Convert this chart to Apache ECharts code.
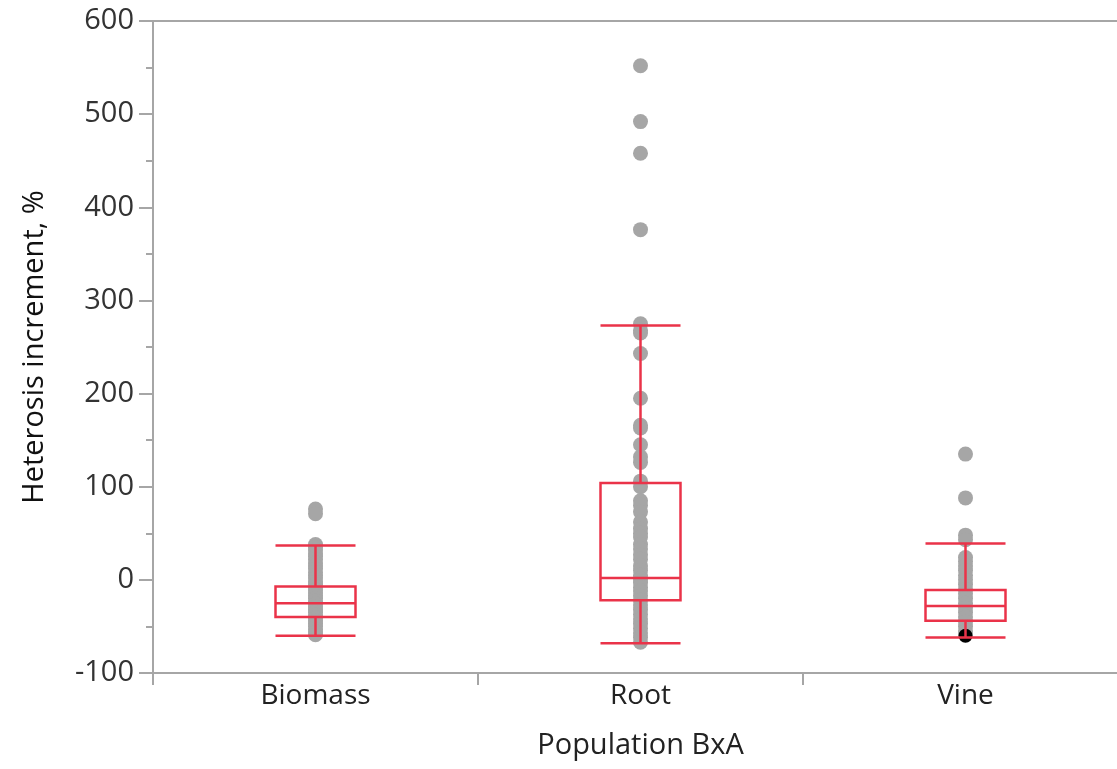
<!DOCTYPE html>
<html>
<head>
<meta charset="utf-8">
<script src="https://cdn.jsdelivr.net/npm/echarts@6/dist/echarts.min.js"></script>
<style>
html,body{margin:0;padding:0;background:#fff;overflow:hidden;width:1117px;height:769px;}
#chart{width:1128px;height:769px;}
</style>
</head>
<body>
<div id="chart"></div>
<script>
// Categories
const categories = ['Biomass', 'Root', 'Vine'];
// Y axis ticks
const yTicks = [-100, 0, 100, 200, 300, 400, 500, 600];
// Box statistics: [min, Q1, median, Q3, max]
const boxBiomass = [-60, -40, -25, -7, 37];
const boxRoot = [-68, -22, 2, 104, 273];
const boxVine = [-62, -44, -28, -11, 39];
// Individual observations
const pointsBiomass = [76, 71, 38, 35, 32, 28, 25, 22, 18, 15, 12, 8, 5, 2, -2, -5, -8, -11, -14, -17, -20, -23, -26, -29, -32, -35, -38, -41, -44, -47, -50, -53, -56, -59];
const pointsRoot = [552, 492, 458, 376, 275, 268, 265, 243, 195, 166, 163, 145, 132, 126, 106, 100, 85, 80, 73, 62, 55, 50, 46, 38, 33, 27, 22, 15, 10, 5, 1, -3, -8, -12, -17, -22, -27, -32, -37, -42, -47, -52, -57, -62, -67];
const pointsVine = [135, 88, 48, 43, 24, 20, 15, 10, 5, 0, -5, -10, -15, -20, -25, -30, -35, -40, -45, -50, -55, -58];
const pointsVineHighlight = [-60];

const grayPts = [];
pointsBiomass.forEach(v => grayPts.push([categories[0], v]));
pointsRoot.forEach(v => grayPts.push([categories[1], v]));
pointsVine.forEach(v => grayPts.push([categories[2], v]));
const blackPts = pointsVineHighlight.map(v => [categories[2], v]);

const chart = echarts.init(document.getElementById('chart'), null, {renderer: 'canvas'});
const axisGray = '#a6a6a6';
const red = '#ea3349';
chart.setOption({
  animation: false,
  backgroundColor: '#ffffff',
  grid: {left: 153, top: 21, right: 0, bottom: 96, show: false, containLabel: false},
  xAxis: [{
    type: 'category',
    data: categories,
    boundaryGap: true,
    position: 'bottom',
    axisLine: {onZero: false, lineStyle: {color: axisGray, width: 2}},
    axisTick: {show: true, alignWithLabel: false, interval: 0, length: 12, lineStyle: {color: axisGray, width: 2}},
    axisLabel: {fontFamily: 'Open Sans', fontSize: 28, color: '#222', margin: 9},
    name: 'Population BxA',
    nameLocation: 'middle',
    nameGap: 58,
    nameTextStyle: {fontFamily: 'Open Sans', fontSize: 29, color: '#222'},
    splitLine: {show: false}
  }, {
    type: 'category',
    data: categories,
    position: 'top',
    axisLine: {onZero: false, lineStyle: {color: axisGray, width: 2}},
    axisTick: {show: false},
    axisLabel: {show: false},
    splitLine: {show: false}
  }],
  yAxis: {
    type: 'value',
    min: yTicks[0],
    max: yTicks[yTicks.length - 1],
    interval: 100,
    axisLine: {show: true, onZero: false, lineStyle: {color: axisGray, width: 2}},
    axisTick: {show: true, length: 14, lineStyle: {color: axisGray, width: 2}},
    minorTick: {show: true, splitNumber: 2, length: 7, lineStyle: {color: axisGray, width: 2}},
    axisLabel: {fontFamily: 'Open Sans', fontSize: 29, color: '#333', margin: 19},
    splitLine: {show: false},
    name: 'Heterosis increment, %',
    nameLocation: 'middle',
    nameGap: 104,
    nameTextStyle: {fontFamily: 'Open Sans', fontSize: 29, color: '#111'}
  },
  series: [
    {
      type: 'scatter',
      data: grayPts,
      symbolSize: 15,
      itemStyle: {color: '#a6a6a6', opacity: 1},
      z: 2
    },
    {
      type: 'scatter',
      data: blackPts,
      symbolSize: 14,
      itemStyle: {color: '#000000', opacity: 1},
      z: 3
    },
    {
      type: 'boxplot',
      data: [boxBiomass, boxRoot, boxVine],
      boxWidth: [80, 80],
      itemStyle: {color: 'rgba(0,0,0,0)', borderColor: red, borderWidth: 2.5},
      z: 5
    }
  ]
});
</script>
</body>
</html>
